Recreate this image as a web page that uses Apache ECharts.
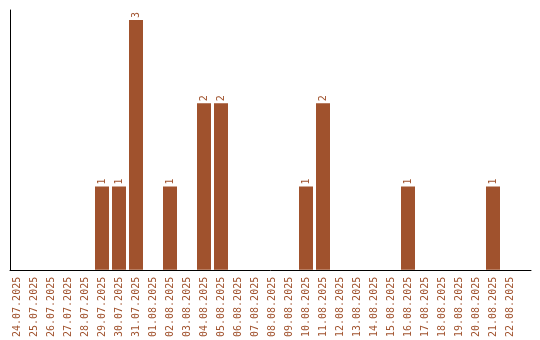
<!DOCTYPE html>
<html><head><meta charset="utf-8">
<script src="https://cdn.jsdelivr.net/npm/echarts@6/dist/echarts.min.js"></script>
<style>html,body{margin:0;padding:0;background:#fff}#c{width:540px;height:340px}</style>
</head><body><div id="c"></div>
<script>
const categories = ['24.07.2025','25.07.2025','26.07.2025','27.07.2025','28.07.2025','29.07.2025','30.07.2025','31.07.2025','01.08.2025','02.08.2025','03.08.2025','04.08.2025','05.08.2025','06.08.2025','07.08.2025','08.08.2025','09.08.2025','10.08.2025','11.08.2025','12.08.2025','13.08.2025','14.08.2025','15.08.2025','16.08.2025','17.08.2025','18.08.2025','19.08.2025','20.08.2025','21.08.2025','22.08.2025'];
const counts = [0,0,0,0,0,1,1,3,0,1,0,2,2,0,0,0,0,1,2,0,0,0,0,1,0,0,0,0,1,0];
const color = '#a0522d';
const chart = echarts.init(document.getElementById('c'), null, {renderer:'canvas'});
chart.setOption({
  animation:false,
  grid:[
    {left:8.5, width:510, top:10, bottom:70},
    {left:10, right:9, top:10, bottom:70}
  ],
  xAxis:[
    {type:'category', gridIndex:0, data:categories,
     axisLine:{show:false}, axisTick:{show:false},
     axisLabel:{rotate:90, interval:0, margin:7, color:color, fontFamily:'DejaVu Sans Mono', fontSize:10}},
    {type:'category', gridIndex:1, data:[''], axisLine:{show:true, lineStyle:{color:'#000', width:1}},
     axisTick:{show:false}, axisLabel:{show:false}}
  ],
  yAxis:[
    {type:'value', gridIndex:0, min:0, max:3.12, offset:-1.5,
     axisLine:{show:true, lineStyle:{color:'#000', width:1}}, axisTick:{show:false},
     axisLabel:{show:false}, splitLine:{show:false}},
    {type:'value', gridIndex:1, show:false, min:0, max:1}
  ],
  series:[{
    type:'bar', xAxisIndex:0, yAxisIndex:0,
    data:counts.map(v=> v>0 ? v : null),
    barWidth:14,
    itemStyle:{color:color},
    label:{show:true, position:'top', rotate:90, align:'left', verticalAlign:'middle', distance:2,
      color:color, fontFamily:'DejaVu Sans Mono', fontSize:10}
  }]
});
</script></body></html>
